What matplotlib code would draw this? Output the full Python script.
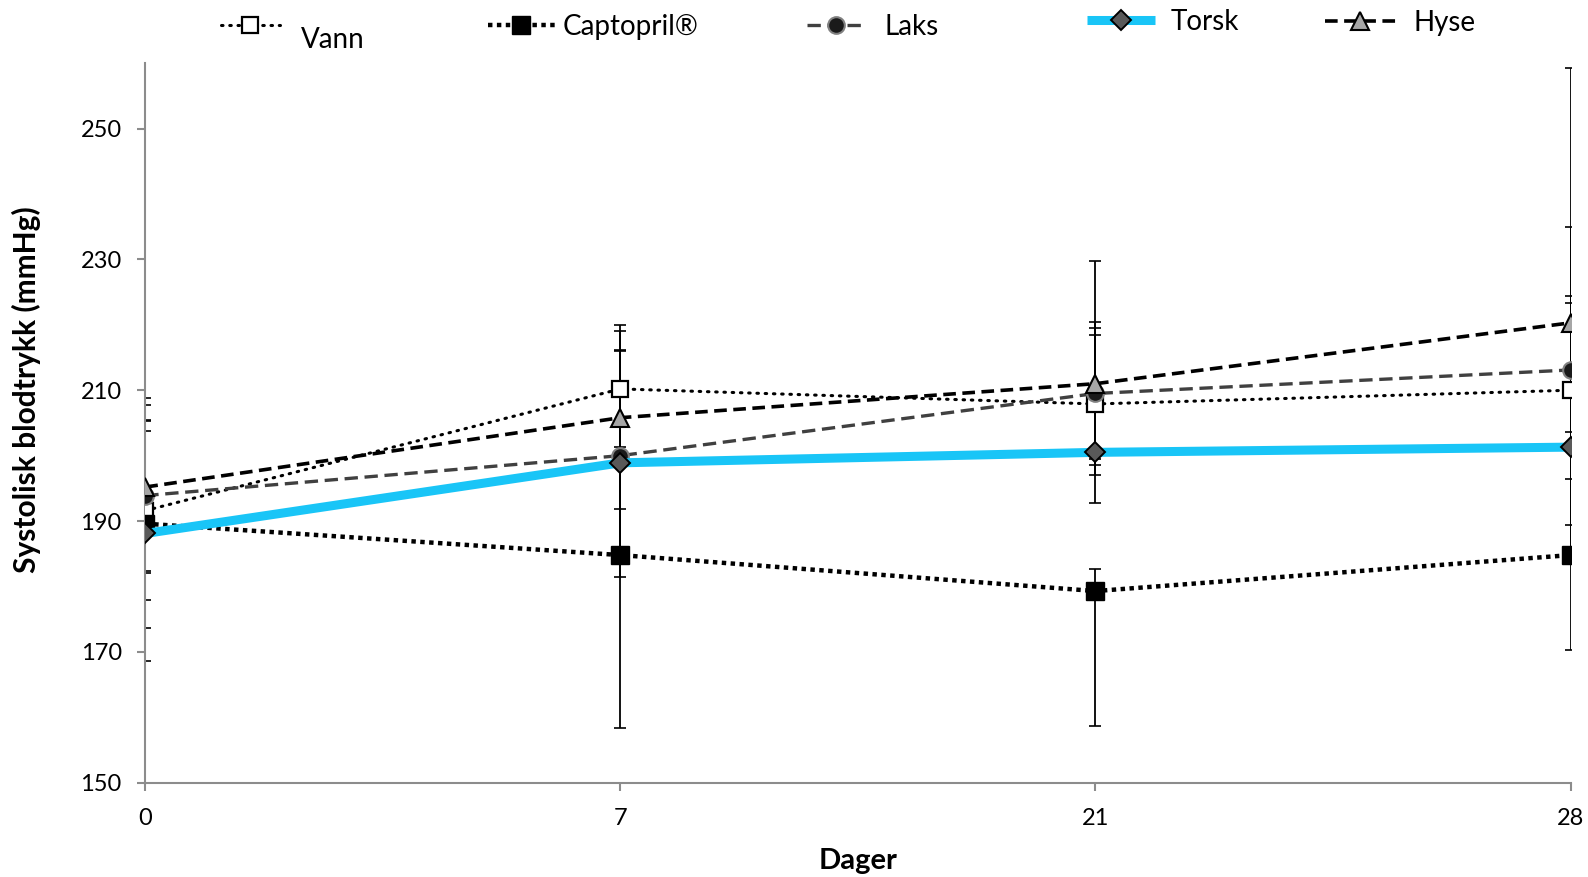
import numpy as np
import matplotlib
matplotlib.use('Agg')
import matplotlib.pyplot as plt
from matplotlib.lines import Line2D

plt.rcParams['font.family'] = ['Lato', 'DejaVu Sans']

# dager (kategorier)
days = ['0', '7', '21', '28']

# middelverdier, systolisk blodtrykk (mmHg)
vann = [191.6, 210.2, 207.9, 210.0]
captopril = [189.6, 184.8, 179.3, 184.8]
laks = [193.9, 200.0, 209.5, 213.1]
torsk = [188.1, 198.9, 200.5, 201.3]
hyse = [195.2, 205.8, 211.0, 220.3]

# feilstolper: (minus, pluss)
vann_err = [[13.6, 8.9, 10.9, 20.6], [13.9, 9.8, 10.6, 14.4]]
captopril_err = [[15.9, 26.4, 20.6, 14.5], [15.7, 26.4, 3.3, 18.8]]
laks_err = [[11.9, 16.5, 11.0, 16.7], [13.8, 16.1, 10.0, 21.8]]
torsk_err = [[19.5, 17.5, 7.8, 17.0], [15.6, 17.1, 29.3, 22.0]]
hyse_err = [[12.8, 14.0, 11.5, 18.6], [13.6, 13.2, 9.4, 38.9]]

labels = ['Vann', 'Captopril®', 'Laks', 'Torsk', 'Hyse']

fig = plt.figure(figsize=(15.88, 8.77), dpi=100)
ax = fig.add_axes([0.0915, 0.1075, 0.8975, 0.8205])

x = np.arange(len(days))

styles = [
    dict(color='black', linestyle=(0, (0.5, 2.2)), dash_capstyle='round', lw=2.2,
         marker='s', ms=11, mfc='white', mec='black', mew=1.6),
    dict(color='black', linestyle=(0, (1, 1)), lw=3.2,
         marker='s', ms=12.5, mfc='black', mec='black', mew=1),
    dict(color='#404040', linestyle=(0, (4, 2)), lw=2.4,
         marker='o', ms=12, mfc='#1a1a1a', mec='#808080', mew=1.5),
    dict(color='#19C5F7', linestyle='-', lw=6.5, solid_capstyle='butt',
         marker='D', ms=10, mfc='#595959', mec='black', mew=1.4),
    dict(color='black', linestyle=(0, (3.5, 1.8)), lw=2.6,
         marker='^', ms=13, mfc='#a6a6a6', mec='black', mew=1.5),
]

series = [vann, captopril, laks, torsk, hyse]
errs = [vann_err, captopril_err, laks_err, torsk_err, hyse_err]

for vals, err in zip(series, errs):
    ax.errorbar(x, vals, yerr=err, fmt='none', ecolor='black', elinewidth=1.3,
                capsize=4.5, capthick=1.2, zorder=2)

for vals, st in zip(series, styles):
    ax.plot(x, vals, zorder=3, **st)

ax.set_xlim(0, 3)
ax.set_ylim(150, 260)
ax.set_yticks([150, 170, 190, 210, 230, 250])
ax.set_xticks(x)
ax.set_xticklabels(days)

for s in ['top', 'right']:
    ax.spines[s].set_visible(False)
for s in ['left', 'bottom']:
    ax.spines[s].set_color('#8c8c8c')
    ax.spines[s].set_linewidth(1.5)
    ax.spines[s].set_clip_on(False)

ax.tick_params(axis='both', colors='#8c8c8c', length=6, width=1.5,
               labelcolor='black', labelsize=17)
ax.tick_params(axis='y', pad=11)
ax.tick_params(axis='x', pad=12)

ax.set_ylabel('Systolisk blodtrykk (mmHg)', fontsize=21.5, fontweight='bold')
ax.yaxis.set_label_coords(-0.073, 0.546)
ax.set_xlabel('Dager', fontsize=21, fontweight='bold', labelpad=14)

# legende i topp (en per serie, slik som i originalen)
W, H = 1588, 877
leg_pos = [(221, 27), (488, 27), (807, 27), (1087, 22), (1325, 23)]
leg_hlen = [2.12, 2.4, 2.12, 2.45, 2.55]
leg_pad = [0.4, 0.28, 0.68, 0.55, 0.62]
for i, (lab, st) in enumerate(zip(labels, styles)):
    h = Line2D([], [], **st)
    px, py = leg_pos[i]
    shown = '' if i == 0 else lab
    fig.legend([h], [shown], loc='center left',
               bbox_to_anchor=(px / W, 1 - py / H),
               frameon=False, fontsize=20, handlelength=leg_hlen[i],
               handletextpad=leg_pad[i], borderpad=0, borderaxespad=0)
fig.text(301 / W, 1 - 40.5 / H, 'Vann', fontsize=20, va='center', ha='left')

fig.savefig('out.png', dpi=100)
